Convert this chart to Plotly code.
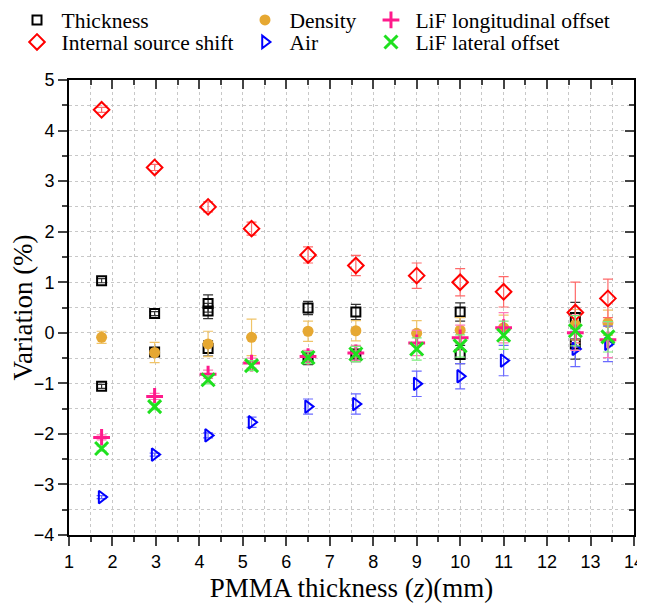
import plotly.graph_objects as go

x_all = [1.75, 2.97, 4.2, 5.2, 6.5, 7.6, 9.0, 10.0, 11.0, 12.65, 13.4]

thick_x = [1.75, 1.75, 2.97, 2.97, 4.2, 4.2, 4.2, 6.5, 6.5, 7.6, 7.6, 10.0, 10.0, 12.65, 12.65]
thick_y = [1.03, -1.06, 0.38, -0.38, 0.58, 0.43, -0.31, 0.49, -0.50, 0.41, -0.42, 0.41, -0.43, 0.30, -0.22]
thick_e = [0.04, 0.04, 0.04, 0.04, 0.17, 0.15, 0.15, 0.13, 0.13, 0.15, 0.15, 0.18, 0.18, 0.30, 0.30]

internal_y = [4.41, 3.27, 2.49, 2.06, 1.54, 1.33, 1.13, 1.00, 0.81, 0.40, 0.68]
internal_e = [0.05, 0.06, 0.10, 0.13, 0.16, 0.20, 0.25, 0.27, 0.30, 0.60, 0.38]

density_y = [-0.09, -0.39, -0.22, -0.09, 0.03, 0.04, -0.01, 0.05, 0.10, 0.16, 0.20]
density_e = [0.12, 0.20, 0.25, 0.36, 0.20, 0.20, 0.25, 0.25, 0.25, 0.30, 0.25]

air_y = [-3.25, -2.41, -2.03, -1.77, -1.46, -1.41, -1.01, -0.86, -0.55, -0.32, -0.22]
air_e = [0.03, 0.03, 0.05, 0.10, 0.15, 0.20, 0.25, 0.25, 0.30, 0.35, 0.35]

lon_y = [-2.07, -1.26, -0.82, -0.60, -0.47, -0.40, -0.20, -0.10, 0.10, 0.00, -0.14]
lon_e = [0.05, 0.06, 0.08, 0.10, 0.12, 0.15, 0.25, 0.25, 0.30, 0.35, 0.35]

lat_y = [-2.29, -1.46, -0.93, -0.65, -0.49, -0.42, -0.32, -0.26, -0.05, 0.04, -0.08]
lat_e = [0.05, 0.06, 0.08, 0.10, 0.12, 0.15, 0.22, 0.22, 0.28, 0.30, 0.30]

fig = go.Figure()

def add(name, x, y, e, sym, size, color, ecolor, legend, lw=2):
    fig.add_trace(go.Scatter(
        x=x, y=y, mode="markers", name=name, legend=legend,
        marker=dict(symbol=sym, size=size, color=color,
                    line=dict(color=color, width=lw)),
        error_y=dict(type="data", array=e, visible=True, color=ecolor,
                     thickness=1.2, width=5),
    ))

add("Thickness", thick_x, thick_y, thick_e, "square-open", 9, "black", "#333333", "legend")
add("Density", x_all, density_y, density_e, "circle", 11, "#E6A832", "#F0C468", "legend2", lw=0)
add("Internal source shift", x_all, internal_y, internal_e, "diamond-open", 12, "#FF0000", "#FF6A6A", "legend4")
add("Air", x_all, air_y, air_e, "triangle-right-open", 11, "#0000FF", "#6A6AFF", "legend5")
add("LiF longitudinal offset", x_all, lon_y, lon_e, "cross-thin", 12, "#FF1A8C", "#FF7AB8", "legend3", lw=3)
add("LiF lateral offset", x_all, lat_y, lat_e, "x-thin", 13, "#1FE01F", "#7AEE7A", "legend6", lw=3)

# invisible trace to show mirrored axes (top/right)
fig.add_trace(go.Scatter(x=[1], y=[5], xaxis="x2", yaxis="y2", mode="markers",
                         marker=dict(opacity=0), showlegend=False, hoverinfo="skip"))

grid = dict(showgrid=True, gridcolor="#C8C8C8", griddash="dot", gridwidth=1)
leg = dict(yanchor="top", xanchor="left", bgcolor="rgba(0,0,0,0)",
           font=dict(size=21.5), tracegroupgap=0, itemwidth=39)
row1, row2 = 1.177, 1.1286
col1, col2, col3 = -0.10, 0.3035, 0.5265
fig.update_layout(
    width=645, height=609,
    margin=dict(l=61, r=19, t=72, b=82, autoexpand=False),
    paper_bgcolor="white", plot_bgcolor="white",
    font=dict(family="Liberation Serif", color="black"),
    xaxis=dict(range=[1, 14], dtick=1, tick0=1, ticks="outside", ticklen=9, tickwidth=1.5,
               showline=True, linecolor="black", linewidth=2, zeroline=False, automargin=False,
               tickfont=dict(family="Liberation Sans", size=18),
               minor=dict(dtick=0.5, ticks="outside", ticklen=5, tickwidth=1.5,
                          showgrid=True, gridcolor="#C8C8C8", griddash="dot"),
               title=dict(text="PMMA thickness (<i>z</i>)(mm)", font=dict(size=27), standoff=8),
               **grid),
    yaxis=dict(range=[-4, 5], dtick=1, ticks="outside", ticklen=9, tickwidth=1.5,
               showline=True, linecolor="black", linewidth=2, zeroline=False, automargin=False,
               tickfont=dict(family="Liberation Sans", size=18),
               minor=dict(dtick=0.5, ticks="outside", ticklen=5, tickwidth=1.5,
                          showgrid=True, gridcolor="#C8C8C8", griddash="dot"),
               title=dict(text="Variation (%)", font=dict(size=27), standoff=6),
               **grid),
    xaxis2=dict(range=[1, 14], overlaying="x", side="top", dtick=1, tick0=1, automargin=False,
                ticks="inside", ticklen=9, tickwidth=1.5, showticklabels=False,
                showline=True, linecolor="black", linewidth=2, showgrid=False, zeroline=False,
                minor=dict(dtick=0.5, ticks="inside", ticklen=5, tickwidth=1.5)),
    yaxis2=dict(range=[-4, 5], overlaying="y", side="right", dtick=1, automargin=False,
                ticks="inside", ticklen=9, tickwidth=1.5, showticklabels=False,
                showline=True, linecolor="black", linewidth=2, showgrid=False, zeroline=False,
                minor=dict(dtick=0.5, ticks="inside", ticklen=5, tickwidth=1.5)),
    legend=dict(x=col1, y=row1, **leg),
    legend2=dict(x=col2, y=row1, **leg),
    legend3=dict(x=col3, y=row1, **leg),
    legend4=dict(x=col1, y=row2, **leg),
    legend5=dict(x=col2, y=row2, **leg),
    legend6=dict(x=col3, y=row2, **leg),
)

fig.write_html("out.html")
